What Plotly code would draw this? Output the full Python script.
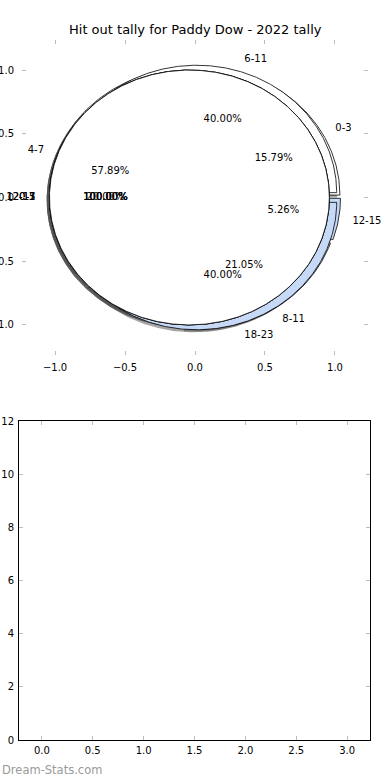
import numpy as np
import plotly.graph_objects as go

TITLE = "Hit out tally for Paddy Dow - 2022 tally"
WATERMARK = "Dream-Stats.com"

# ---- pie data (drawn bottom to top, as overlapping pies) ----
pie_b_labels = ["0-3", "4-7", "8-11", "12-15"]
pie_b_values = [3, 11, 4, 1]
pie_a_labels = ["6-11", "12-17", "18-23"]
pie_a_values = [2, 1, 2]
pie_c_labels = ["12-15"]
pie_c_values = [1]
pie_d_labels = ["0-3"]
pie_d_values = [1]
pie_e_labels = ["0-1"]
pie_e_values = [1]

# ---- lower (empty) bar panel ----
bar_x = [0, 1, 2, 3]
bar_y = [0, 0, 0, 0]

pie_tick_vals = [-1.0, -0.5, 0.0, 0.5, 1.0]
bar_x_ticks = [0.0, 0.5, 1.0, 1.5, 2.0, 2.5, 3.0]
bar_y_ticks = [0, 2, 4, 6, 8, 10, 12]

WHITE = "#ffffff"
BLUE = "#c6daf8"
FONT = "DejaVu Sans"
EXPLODE = 0.04
RADIUS = 1.0

pies = [
    dict(labels=pie_b_labels, values=pie_b_values, colors=[WHITE, WHITE, BLUE, BLUE]),
    dict(labels=pie_a_labels, values=pie_a_values, colors=[WHITE, WHITE, BLUE]),
    dict(labels=pie_c_labels, values=pie_c_values, colors=[WHITE]),
    dict(labels=pie_d_labels, values=pie_d_values, colors=[WHITE]),
    dict(labels=pie_e_labels, values=pie_e_values, colors=[WHITE]),
]


def wedge_xy(cx, cy, r, t1, t2):
    full = abs((t2 - t1) - 360) < 1e-9
    n = max(int(abs(t2 - t1) * 2), 8)
    th = np.radians(np.linspace(t1, t2, n))
    xs = cx + r * np.cos(th)
    ys = cy + r * np.sin(th)
    if full:
        return list(xs), list(ys)
    return [cx] + list(xs) + [cx], [cy] + list(ys) + [cy]


shadows, wedges = [], []
lab_x, lab_y, lab_t, lab_pos = [], [], [], []
pct_x, pct_y, pct_t = [], [], []

for p in pies:
    vals = np.array(p["values"], dtype=float)
    fr = vals / vals.sum()
    theta1 = 0.0
    for i, f in enumerate(fr):
        theta2 = theta1 + 360.0 * f
        tm = np.radians((theta1 + theta2) / 2)
        cx, cy = EXPLODE * np.cos(tm), EXPLODE * np.sin(tm)
        sx, sy = wedge_xy(cx - 0.02, cy - 0.02, RADIUS, theta1, theta2)
        shadows.append(go.Scatter(x=sx, y=sy, mode="lines", fill="toself",
                                  fillcolor="rgba(77,77,77,0.5)", line=dict(width=0),
                                  hoverinfo="skip", showlegend=False, xaxis="x", yaxis="y"))
        wx, wy = wedge_xy(cx, cy, RADIUS, theta1, theta2)
        wedges.append(go.Scatter(x=wx, y=wy, mode="lines", fill="toself",
                                 fillcolor=p["colors"][i], line=dict(color="black", width=0.8),
                                 hoverinfo="skip", showlegend=False, xaxis="x", yaxis="y"))
        xt = cx + 1.1 * RADIUS * np.cos(tm)
        yt = cy + 1.1 * RADIUS * np.sin(tm)
        lab_x.append(xt); lab_y.append(yt); lab_t.append(p["labels"][i])
        lab_pos.append("middle right" if xt > 0 else "middle left")
        pct_x.append(cx + 0.6 * RADIUS * np.cos(tm))
        pct_y.append(cy + 0.6 * RADIUS * np.sin(tm))
        pct_t.append("%.2f%%" % (100 * f))
        theta1 = theta2

fig = go.Figure()
for t in shadows + wedges:
    fig.add_trace(t)

fig.add_trace(go.Scatter(x=lab_x, y=lab_y, text=lab_t, mode="text", textposition=lab_pos,
                         textfont=dict(family=FONT, size=10, color="black"), cliponaxis=False,
                         hoverinfo="skip", showlegend=False, xaxis="x", yaxis="y"))
fig.add_trace(go.Scatter(x=pct_x, y=pct_y, text=pct_t, mode="text", textposition="middle center",
                         textfont=dict(family=FONT, size=10, color="black"), cliponaxis=False,
                         hoverinfo="skip", showlegend=False, xaxis="x", yaxis="y"))

# empty bar panel
fig.add_trace(go.Bar(x=bar_x, y=bar_y, marker=dict(color="#4c72b0"), showlegend=False,
                     hoverinfo="skip", xaxis="x2", yaxis="y2"))

W, H = 390, 780
tickfont = dict(family=FONT, size=10, color="black")
common = dict(showgrid=False, zeroline=False, ticks="inside", ticklen=4, tickwidth=1,
              tickcolor="#bdbdbd", mirror="ticks", tickfont=tickfont, automargin=False,
              fixedrange=True)

fig.update_layout(
    template="none",
    width=W, height=H,
    margin=dict(l=0, r=0, t=0, b=0, pad=0),
    paper_bgcolor="white", plot_bgcolor="white",
    showlegend=False,
    xaxis=dict(domain=[22 / W, 368 / W], range=[-1.236, 1.236], anchor="y", showline=False,
               tickvals=pie_tick_vals, tickformat=".1f", ticklabelstandoff=5, **common),
    yaxis=dict(domain=[1 - 355 / H, 1 - 40 / H], range=[-1.236, 1.236], anchor="x", showline=False,
               tickvals=pie_tick_vals, tickformat=".1f", ticklabelstandoff=7, **common),
    xaxis2=dict(domain=[19 / W, 370 / W], range=[-0.225, 3.225], anchor="y2",
                showline=True, linecolor="black", linewidth=1,
                tickvals=bar_x_ticks, tickformat=".1f", ticklabelstandoff=1, **common),
    yaxis2=dict(domain=[1 - 740 / H, 1 - 421 / H], range=[0, 12], anchor="x2",
                showline=True, linecolor="black", linewidth=1,
                tickvals=bar_y_ticks, ticklabelstandoff=2, **common),
    annotations=[
        dict(text=TITLE, x=0.5, y=1 - 30 / H, xref="paper", yref="paper",
             xanchor="center", yanchor="middle", showarrow=False,
             font=dict(family=FONT, size=13, color="black")),
        dict(text=WATERMARK, x=0, y=1 - 770 / H, xref="paper", yref="paper",
             xanchor="left", yanchor="middle", showarrow=False,
             font=dict(family=FONT, size=11.5, color="#9a9a9a")),
    ],
)

fig.write_html("out.html")
